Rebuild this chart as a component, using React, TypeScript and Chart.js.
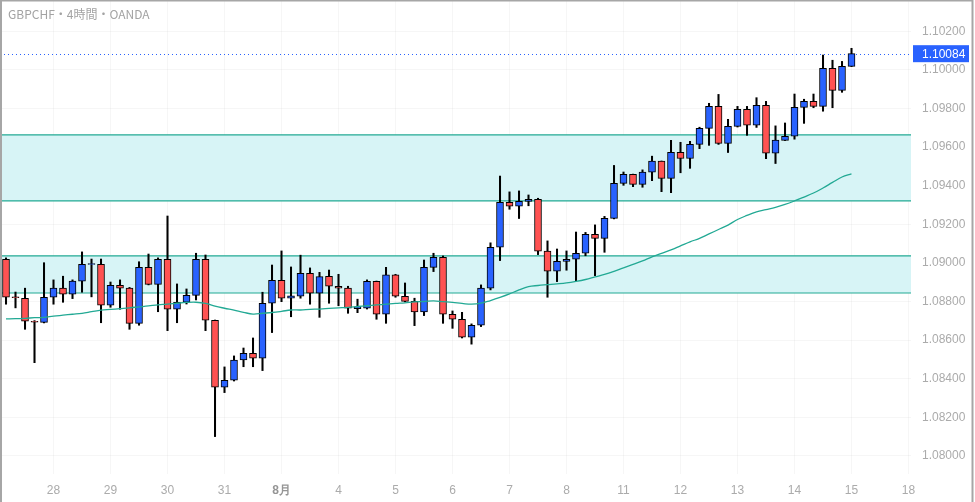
import React, { useEffect, useRef } from "react";
import { Chart, registerables } from "chart.js";

Chart.register(...registerables);

const title = "GBPCHF・4時間・OANDA";

const opens = [
  1.09019, 1.08824, 1.08817, 1.08697, 1.08692, 1.08822, 1.08869, 1.08838, 1.08905, 1.08992,
  1.08993, 1.08781, 1.08884, 1.08869, 1.08687, 1.08977, 1.08889, 1.09019, 1.08760, 1.08796,
  1.08832, 1.09019, 1.08703, 1.08356, 1.08392, 1.08497, 1.08532, 1.08506, 1.08791, 1.08910,
  1.08817, 1.08827, 1.08946, 1.08843, 1.08931, 1.08879, 1.08869, 1.08763, 1.08765, 1.08905,
  1.08734, 1.08938, 1.08827, 1.08801, 1.08746, 1.08977, 1.09029, 1.08734, 1.08708, 1.08615,
  1.08677, 1.08869, 1.09081, 1.09314, 1.09294, 1.09319, 1.09330, 1.09061, 1.08957, 1.09008,
  1.09019, 1.09050, 1.09148, 1.09127, 1.09231, 1.09412, 1.09459, 1.09407, 1.09470, 1.09527,
  1.09438, 1.09573, 1.09541, 1.09614, 1.09697, 1.09811, 1.09619, 1.09707, 1.09796, 1.09713,
  1.09817, 1.09568, 1.09635, 1.09656, 1.09806, 1.09837, 1.09811, 1.10008, 1.09894, 1.10018,
];

const highs = [
  1.09026, 1.08849, 1.08869, 1.08701, 1.09001, 1.08912, 1.08931, 1.08912, 1.09057, 1.09020,
  1.09020, 1.08901, 1.08912, 1.08873, 1.09006, 1.09046, 1.09026, 1.09243, 1.08891, 1.08865,
  1.09050, 1.09041, 1.08704, 1.08461, 1.08518, 1.08559, 1.08611, 1.08848, 1.08989, 1.09062,
  1.08979, 1.09040, 1.08974, 1.08951, 1.08963, 1.08941, 1.08879, 1.08812, 1.08912, 1.08906,
  1.08977, 1.08941, 1.08896, 1.08817, 1.09015, 1.09050, 1.09036, 1.08751, 1.08744, 1.08684,
  1.08886, 1.09104, 1.09450, 1.09368, 1.09373, 1.09352, 1.09335, 1.09114, 1.09072, 1.09062,
  1.09160, 1.09158, 1.09197, 1.09241, 1.09505, 1.09471, 1.09460, 1.09482, 1.09553, 1.09528,
  1.09635, 1.09625, 1.09630, 1.09703, 1.09827, 1.09873, 1.09744, 1.09811, 1.09811, 1.09856,
  1.09837, 1.09710, 1.09725, 1.09875, 1.09848, 1.09875, 1.10077, 1.10050, 1.10044, 1.10112,
];

const lows = [
  1.08786, 1.08767, 1.08656, 1.08483, 1.08689, 1.08786, 1.08796, 1.08815, 1.08848, 1.08824,
  1.08690, 1.08770, 1.08760, 1.08656, 1.08677, 1.08886, 1.08747, 1.08649, 1.08690, 1.08787,
  1.08808, 1.08649, 1.08100, 1.08328, 1.08388, 1.08462, 1.08462, 1.08442, 1.08639, 1.08799,
  1.08721, 1.08817, 1.08786, 1.08718, 1.08791, 1.08778, 1.08739, 1.08742, 1.08761, 1.08708,
  1.08687, 1.08822, 1.08798, 1.08675, 1.08727, 1.08955, 1.08687, 1.08661, 1.08611, 1.08579,
  1.08670, 1.08860, 1.09012, 1.09278, 1.09230, 1.09296, 1.09043, 1.08822, 1.08903, 1.08962,
  1.08908, 1.09037, 1.08934, 1.09055, 1.09228, 1.09402, 1.09395, 1.09392, 1.09426, 1.09369,
  1.09364, 1.09467, 1.09490, 1.09592, 1.09609, 1.09614, 1.09572, 1.09704, 1.09661, 1.09702,
  1.09540, 1.09515, 1.09634, 1.09641, 1.09723, 1.09804, 1.09786, 1.09804, 1.09884, 1.10017,
];

const closes = [
  1.08822, 1.08820, 1.08698, 1.08693, 1.08822, 1.08869, 1.08838, 1.08906, 1.08993, 1.08996,
  1.08781, 1.08884, 1.08869, 1.08687, 1.08977, 1.08889, 1.09019, 1.08760, 1.08796, 1.08832,
  1.09019, 1.08703, 1.08356, 1.08392, 1.08496, 1.08532, 1.08506, 1.08791, 1.08910, 1.08817,
  1.08829, 1.08946, 1.08843, 1.08929, 1.08879, 1.08869, 1.08765, 1.08773, 1.08905, 1.08734,
  1.08938, 1.08827, 1.08801, 1.08746, 1.08977, 1.09029, 1.08734, 1.08708, 1.08615, 1.08677,
  1.08869, 1.09081, 1.09314, 1.09294, 1.09319, 1.09330, 1.09061, 1.08957, 1.09008, 1.09019,
  1.09050, 1.09148, 1.09127, 1.09231, 1.09412, 1.09459, 1.09407, 1.09470, 1.09527, 1.09438,
  1.09573, 1.09541, 1.09614, 1.09697, 1.09811, 1.09619, 1.09707, 1.09796, 1.09713, 1.09817,
  1.09568, 1.09637, 1.09656, 1.09806, 1.09837, 1.09811, 1.10008, 1.09894, 1.10018, 1.10084,
];

const maValues = [
  1.08710, 1.08711, 1.08713, 1.08716, 1.08718, 1.08724, 1.08729, 1.08734, 1.08739, 1.08747,
  1.08755, 1.08759, 1.08763, 1.08767, 1.08772, 1.08777, 1.08783, 1.08786, 1.08791, 1.08795,
  1.08796, 1.08790, 1.08776, 1.08765, 1.08755, 1.08744, 1.08735, 1.08739, 1.08743, 1.08749,
  1.08756, 1.08756, 1.08759, 1.08761, 1.08764, 1.08767, 1.08770, 1.08774, 1.08778, 1.08782,
  1.08786, 1.08790, 1.08793, 1.08798, 1.08800, 1.08803, 1.08799, 1.08795, 1.08790, 1.08786,
  1.08791, 1.08805, 1.08821, 1.08839, 1.08860, 1.08877, 1.08883, 1.08887, 1.08891, 1.08896,
  1.08904, 1.08914, 1.08927, 1.08940, 1.08956, 1.08974, 1.08992, 1.09010, 1.09031, 1.09049,
  1.09067, 1.09088, 1.09109, 1.09127, 1.09150, 1.09173, 1.09196, 1.09225, 1.09246, 1.09264,
  1.09276, 1.09288, 1.09303, 1.09321, 1.09341, 1.09362, 1.09388, 1.09417, 1.09445, 1.09461,
];

const zoneLows = [1.08844, 1.09321];
const zoneHighs = [1.09036, 1.09663];
const lastPrice = 1.10084;

const yTicks = [1.08, 1.082, 1.084, 1.086, 1.088, 1.09, 1.092, 1.094, 1.096, 1.098, 1.1, 1.102];
const yMin = 1.079062;
const yMax = 1.103622;

const dayTickIdx = [5, 11, 17, 23, 29, 35, 41, 47, 53, 59, 65, 71, 77, 83, 89, 95];
const dayLabels = ["28", "29", "30", "31", "8月", "4", "5", "6", "7", "8", "11", "12", "13", "14", "15", "18"];
const xMin = -0.632;
const xMax = 95.263;

const UP = "#2962ff";
const DOWN = "#ff5252";
const TEAL = "#22a994";
const LABEL = "#ababab";
const FONT = "'Liberation Sans', Arial, sans-serif";

export default function App() {
  const ref = useRef<HTMLCanvasElement | null>(null);

  useEffect(() => {
    document.body.style.margin = "0";
    const canvas = ref.current;
    if (!canvas) return;
    const idx = opens.map((_, i) => i);

    const overlay = {
      id: "overlay",
      beforeDatasetsDraw(chart: any) {
        const { ctx, chartArea, scales } = chart;
        const y = scales.y;
        ctx.save();
        zoneLows.forEach((lo, k) => {
          const y1 = y.getPixelForValue(zoneHighs[k]);
          const y2 = y.getPixelForValue(lo);
          ctx.fillStyle = "#d7f4f6";
          ctx.fillRect(chartArea.left, y1, chartArea.right - chartArea.left, y2 - y1);
          ctx.strokeStyle = TEAL;
          ctx.lineWidth = 1.2;
          ctx.beginPath();
          ctx.moveTo(chartArea.left, y1);
          ctx.lineTo(chartArea.right, y1);
          ctx.moveTo(chartArea.left, y2);
          ctx.lineTo(chartArea.right, y2);
          ctx.stroke();
        });
        const py = Math.round(y.getPixelForValue(lastPrice)) + 0.5;
        ctx.strokeStyle = UP;
        ctx.lineWidth = 1;
        ctx.setLineDash([1, 3]);
        ctx.beginPath();
        ctx.moveTo(chartArea.left, py);
        ctx.lineTo(chartArea.right, py);
        ctx.stroke();
        ctx.restore();
      },
      afterDraw(chart: any) {
        const { ctx, chartArea, scales } = chart;
        const y = scales.y;
        ctx.save();
        const py = y.getPixelForValue(lastPrice);
        ctx.fillStyle = UP;
        ctx.fillRect(chartArea.right + 2, py - 8.5, 56, 17);
        ctx.fillStyle = "#ffffff";
        ctx.font = `12px ${FONT}`;
        ctx.textBaseline = "middle";
        ctx.textAlign = "left";
        ctx.fillText(lastPrice.toFixed(5), chartArea.right + 11, py + 0.5);

        ctx.fillStyle = "#a3a3a3";
        ctx.font = `12px 'Noto Sans CJK JP', sans-serif`;
        ctx.fillText(title, 8, 14);

        ctx.fillStyle = "#a6a6a6";
        ctx.fillRect(0, 0, 2, chart.height);
        ctx.fillRect(0, 0, 973, 1.5);
        ctx.fillRect(971.5, 0, 2, chart.height);
        ctx.restore();
      },
    };

    const chart = new Chart(canvas, {
      type: "bar",
      data: {
        datasets: [
          {
            type: "line",
            data: idx.map((i) => ({ x: i, y: maValues[i] })),
            borderColor: TEAL,
            borderWidth: 1.3,
            pointRadius: 0,
            tension: 0.4,
            order: 1,
          } as any,
          {
            type: "bar",
            data: idx.map((i) => ({ x: i, y: [opens[i], closes[i]] })),
            backgroundColor: idx.map((i) => (closes[i] >= opens[i] ? UP : DOWN)),
            borderColor: "#000000",
            borderWidth: 1,
            borderSkipped: false,
            barThickness: 7,
            grouped: false,
            order: 2,
          } as any,
          {
            type: "bar",
            data: idx.map((i) => ({ x: i, y: [lows[i], highs[i]] })),
            backgroundColor: "#000000",
            borderWidth: 0,
            barThickness: 1.4,
            grouped: false,
            order: 3,
          } as any,
        ],
      },
      options: {
        responsive: false,
        animation: false,
        layout: { padding: 0 },
        plugins: { legend: { display: false }, tooltip: { enabled: false } },
        scales: {
          x: {
            type: "linear",
            min: xMin,
            max: xMax,
            offset: false,
            afterBuildTicks: (s: any) => {
              s.ticks = dayTickIdx.map((v) => ({ value: v }));
            },
            afterFit: (s: any) => {
              s.height = 28;
              s.paddingLeft = 0;
              s.paddingRight = 0;
            },
            ticks: {
              autoSkip: false,
              maxRotation: 0,
              padding: 9,
              color: (c: any) => (c.index === 4 ? "#959595" : LABEL),
              font: (c: any) => ({ family: FONT, size: 12, weight: c.index === 4 ? "bold" : "normal" }),
              callback: (v: any) => {
                const k = dayTickIdx.indexOf(Math.round(Number(v)));
                return k >= 0 ? dayLabels[k] : "";
              },
            },
            grid: { color: "rgba(0,0,0,0.035)", drawTicks: false, offset: false },
            border: { display: false },
          },
          y: {
            type: "linear",
            position: "right",
            min: yMin,
            max: yMax,
            afterBuildTicks: (s: any) => {
              s.ticks = yTicks.map((v) => ({ value: v }));
            },
            afterFit: (s: any) => {
              s.width = 64;
              s.paddingTop = 0;
              s.paddingBottom = 0;
            },
            ticks: {
              padding: 11,
              color: LABEL,
              font: { family: FONT, size: 12 },
              callback: (v: any) => Number(v).toFixed(5),
            },
            grid: { color: "rgba(0,0,0,0.035)", drawTicks: false },
            border: { display: false },
          },
        },
      } as any,
      plugins: [overlay],
    });

    return () => chart.destroy();
  }, []);

  return (
    <div style={{ width: 975, height: 502, background: "#ffffff", position: "relative" }}>
      <canvas ref={ref} width={975} height={502} style={{ display: "block" }} />
    </div>
  );
}
